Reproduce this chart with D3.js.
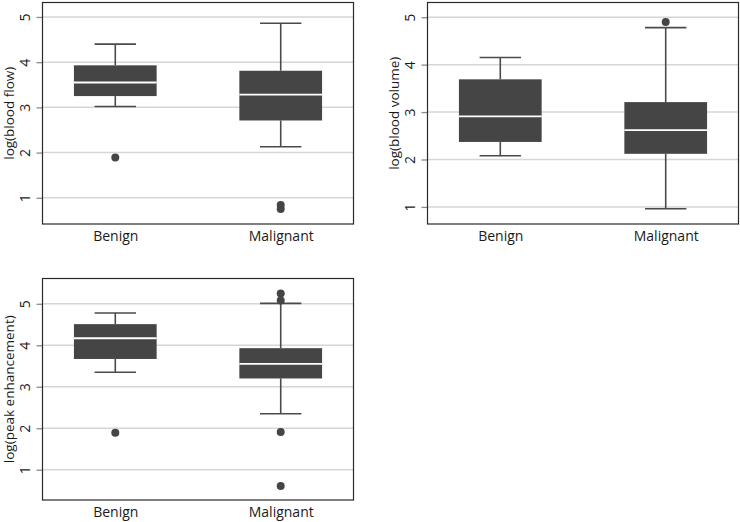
<!DOCTYPE html>
<html><head><meta charset="utf-8">
<script src="https://cdn.jsdelivr.net/npm/d3@7"></script>
<style>
body{margin:0;background:#fff}
svg{display:block}
text{font-family:"Open Sans",sans-serif;fill:#1a1a1a}
</style></head><body>
<script>
const categories = ["Benign", "Malignant"];
const yTicks = [1, 2, 3, 4, 5];
// each box: [lower whisker, Q1, median, Q3, upper whisker]
const bloodFlowBoxes = [[3.02, 3.25, 3.55, 3.93, 4.40], [2.13, 2.71, 3.28, 3.81, 4.86]];
const bloodFlowOutliers = [[1.89], [0.84, 0.75]];
const bloodVolumeBoxes = [[2.08, 2.37, 2.91, 3.69, 4.15], [0.96, 2.12, 2.62, 3.21, 4.78]];
const bloodVolumeOutliers = [[], [4.90]];
const peakBoxes = [[3.35, 3.67, 4.17, 4.51, 4.78], [2.35, 3.20, 3.55, 3.93, 5.01]];
const peakOutliers = [[1.89], [5.25, 5.08, 1.91, 0.61]];
const yTitles = ["log(blood flow)", "log(blood volume)", "log(peak enhancement)"];

const svg = d3.select("body").append("svg").attr("width", 740).attr("height", 522);

const panels = [
  {left: 42.5, right: 353.5, top: 2.5, bottom: 224, domain: [0.42, 5.32], boxes: bloodFlowBoxes, outliers: bloodFlowOutliers, title: yTitles[0]},
  {left: 427.5, right: 738.5, top: 2.5, bottom: 224, domain: [0.64, 5.31], boxes: bloodVolumeBoxes, outliers: bloodVolumeOutliers, title: yTitles[1]},
  {left: 42.5, right: 353.5, top: 278.5, bottom: 500, domain: [0.27, 5.61], boxes: peakBoxes, outliers: peakOutliers, title: yTitles[2]}
];

panels.forEach(p => {
  const g = svg.append("g");
  const W = p.right - p.left;
  const x = d3.scalePoint().domain(categories).range([p.left, p.right]).padding(0.44);
  const y = d3.scaleLinear().domain(p.domain).range([p.bottom, p.top]);
  const boxW = x.step() * 0.5;
  const capW = boxW * 0.5;

  // gridlines
  g.append("g").selectAll("line").data(yTicks).join("line")
    .attr("x1", p.left).attr("x2", p.right)
    .attr("y1", d => y(d)).attr("y2", d => y(d))
    .attr("stroke", "#d6d6d6").attr("stroke-width", 1.5);

  // y axis
  const ya = g.append("g").attr("transform", `translate(${p.left},0)`)
    .call(d3.axisLeft(y).tickValues(yTicks).tickSize(6).tickFormat(d3.format("d")));
  ya.select(".domain").remove();
  ya.selectAll(".tick line").attr("stroke", "#8a8a8a").attr("stroke-width", 1.3);
  ya.selectAll(".tick text")
    .attr("x", null).attr("dy", null)
    .attr("transform", "rotate(-90)")
    .attr("text-anchor", "middle")
    .attr("y", -13)
    .style("font-size", "14px").style("font-family", '"Open Sans",sans-serif').attr("fill", "#1a1a1a");

  // x axis
  const xa = g.append("g").attr("transform", `translate(0,${p.bottom})`)
    .call(d3.axisBottom(x).tickSize(0));
  xa.select(".domain").remove();
  xa.selectAll(".tick text").attr("y", 17).attr("dy", null)
    .style("font-size", "14px").style("font-family", '"Open Sans",sans-serif').attr("fill", "#1a1a1a");

  // y title
  g.append("text")
    .attr("transform", `translate(${p.left - 28.5},${(p.top + p.bottom) / 2}) rotate(-90)`)
    .attr("text-anchor", "middle")
    .style("font-size", "13.5px")
    .text(p.title);

  // boxes
  p.boxes.forEach((b, i) => {
    const cx = x(categories[i]);
    const bg = g.append("g");
    bg.append("line").attr("x1", cx).attr("x2", cx).attr("y1", y(b[3])).attr("y2", y(b[4]))
      .attr("stroke", "#4a4a4a").attr("stroke-width", 1.6);
    bg.append("line").attr("x1", cx).attr("x2", cx).attr("y1", y(b[1])).attr("y2", y(b[0]))
      .attr("stroke", "#4a4a4a").attr("stroke-width", 1.6);
    [b[0], b[4]].forEach(v => {
      bg.append("line").attr("x1", cx - capW / 2).attr("x2", cx + capW / 2)
        .attr("y1", y(v)).attr("y2", y(v))
        .attr("stroke", "#4a4a4a").attr("stroke-width", 1.6);
    });
    bg.append("rect").attr("x", cx - boxW / 2).attr("width", boxW)
      .attr("y", y(b[3])).attr("height", y(b[1]) - y(b[3]))
      .attr("fill", "#454545");
    bg.append("line").attr("x1", cx - boxW / 2).attr("x2", cx + boxW / 2)
      .attr("y1", y(b[2])).attr("y2", y(b[2]))
      .attr("stroke", "#ffffff").attr("stroke-width", 1.8);
    bg.selectAll("circle").data(p.outliers[i]).join("circle")
      .attr("cx", cx).attr("cy", d => y(d)).attr("r", 4)
      .attr("fill", "#454545");
  });

  // frame
  g.append("rect").attr("x", p.left).attr("y", p.top)
    .attr("width", W).attr("height", p.bottom - p.top)
    .attr("fill", "none").attr("stroke", "#2a2a2a").attr("stroke-width", 1.2);
});
</script>
</body></html>
